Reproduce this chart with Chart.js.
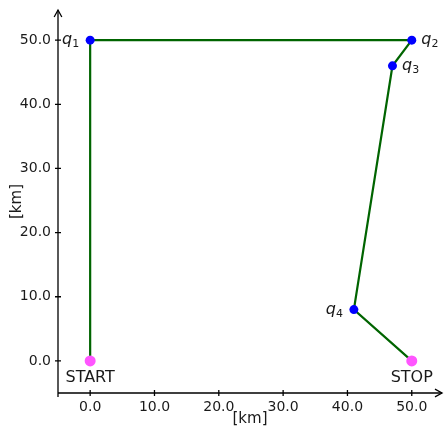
<!DOCTYPE html>
<html>
<head>
<meta charset="utf-8">
<script src="https://cdn.jsdelivr.net/npm/chart.js@4/dist/chart.umd.min.js"></script>
<style>
  html, body { margin: 0; padding: 0; background: #fff; }
  #wrap { width: 444px; height: 427px; }
</style>
</head>
<body>
<div id="wrap"><canvas id="pathChart"></canvas></div>
<script>
// route points, in km
let pathX = [0, 0, 50, 47, 41, 50];
let pathY = [0, 50, 50, 46, 8, 0];
let pointNames = ['START', 'q1', 'q2', 'q3', 'q4', 'STOP'];
let tickValues = [0, 10, 20, 30, 40, 50];

const FONT = "'DejaVu Sans', sans-serif";
const TEXT = '#1a1a1a';
const START_COLOR = '#ff55ff';
const Q_COLOR = '#0000ff';

let pointColors = pointNames.map(n => (n == 'START' || n == 'STOP') ? START_COLOR : Q_COLOR);
let pointSizes = pointNames.map(n => (n == 'START' || n == 'STOP') ? 5.5 : 4.5);

function arrow(ctx, x, y, dx, dy) {
    // open arrow head like matplotlib "->"
    let len = 8, spread = 0.5;
    let ang = Math.atan2(dy, dx);
    ctx.beginPath();
    ctx.moveTo(x - len * Math.cos(ang - spread), y - len * Math.sin(ang - spread));
    ctx.lineTo(x, y);
    ctx.lineTo(x - len * Math.cos(ang + spread), y - len * Math.sin(ang + spread));
    ctx.stroke();
}

const axesPlugin = {
    id: 'axesPlugin',
    beforeDatasetsDraw(chart) {
        const ctx = chart.ctx;
        const xs = chart.scales.x, ys = chart.scales.y;
        const x0 = xs.left, y0 = ys.bottom;
        ctx.save();
        ctx.strokeStyle = '#000';
        ctx.lineWidth = 1.3;
        ctx.beginPath();
        ctx.moveTo(x0, y0 + 4);
        ctx.lineTo(x0, ys.top);
        ctx.moveTo(x0, y0);
        ctx.lineTo(xs.right, y0);
        ctx.stroke();
        arrow(ctx, x0, ys.top, 0, -1);
        arrow(ctx, xs.right, y0, 1, 0);

        // tick marks crossing the axes
        tickValues.forEach(v => {
            let px = xs.getPixelForValue(v);
            let py = ys.getPixelForValue(v);
            ctx.beginPath();
            ctx.moveTo(px, y0 - 3);
            ctx.lineTo(px, y0 + 3);
            ctx.moveTo(x0 - 3, py);
            ctx.lineTo(x0 + 3, py);
            ctx.stroke();
        });
        ctx.restore();
    },
    afterDatasetsDraw(chart) {
        const ctx = chart.ctx;
        const xs = chart.scales.x, ys = chart.scales.y;
        ctx.save();
        ctx.fillStyle = TEXT;
        pointNames.forEach((name, i) => {
            let px = xs.getPixelForValue(pathX[i]);
            let py = ys.getPixelForValue(pathY[i]);
            if (name == 'START' || name == 'STOP') {
                ctx.font = '16px ' + FONT;
                ctx.textAlign = 'center';
                ctx.textBaseline = 'alphabetic';
                ctx.fillText(name, px, py + 21);
                return;
            }
            let sub = name.substring(1);
            ctx.font = 'italic 16px ' + FONT;
            let qw = ctx.measureText('q').width;
            ctx.font = '11px ' + FONT;
            let sw = ctx.measureText(sub).width;
            let left;
            if (name == 'q1' || name == 'q4') {
                left = px - 11 - qw - sw;
            } else {
                left = px + 9.5;
            }
            ctx.textAlign = 'left';
            ctx.textBaseline = 'alphabetic';
            ctx.font = 'italic 16px ' + FONT;
            ctx.fillText('q', left, py + 4);
            ctx.font = '11px ' + FONT;
            ctx.fillText(sub, left + qw, py + 7);
        });
        ctx.restore();
    }
};

function tickOpts(pad) {
    return {
        color: TEXT,
        padding: pad,
        font: { family: FONT, size: 14 },
        callback: v => Number(v).toFixed(1)
    };
}

new Chart(document.getElementById('pathChart'), {
    type: 'line',
    data: {
        datasets: [{
            data: pathX.map((x, i) => ({ x: x, y: pathY[i] })),
            borderColor: '#006400',
            borderWidth: 2.2,
            pointBackgroundColor: pointColors,
            pointBorderColor: pointColors,
            pointRadius: pointSizes,
            pointBorderWidth: 0,
            fill: false,
            tension: 0
        }]
    },
    options: {
        responsive: true,
        maintainAspectRatio: false,
        animation: false,
        layout: { autoPadding: false, padding: { top: 10, right: 2, left: 0, bottom: 0 } },
        plugins: {
            legend: { display: false },
            tooltip: { enabled: false }
        },
        scales: {
            x: {
                type: 'linear',
                min: -5,
                max: 54.7,
                afterBuildTicks: s => { s.ticks = tickValues.map(v => ({ value: v })); },
                afterFit: s => { s.height = 34; s.paddingLeft = 0; s.paddingRight = 0; },
                grid: { display: false, tickLength: 0 },
                border: { display: false },
                ticks: tickOpts(6),
                title: {
                    display: true,
                    text: '[km]',
                    color: TEXT,
                    font: { family: FONT, size: 15 },
                    padding: { top: 0, bottom: -1 }
                }
            },
            y: {
                type: 'linear',
                min: -5,
                max: 54.7,
                afterBuildTicks: s => { s.ticks = tickValues.map(v => ({ value: v })); },
                afterFit: s => { s.width = 58; s.paddingTop = 0; s.paddingBottom = 0; },
                grid: { display: false, tickLength: 0 },
                border: { display: false },
                ticks: tickOpts(7),
                title: {
                    display: true,
                    text: '[km]',
                    color: TEXT,
                    font: { family: FONT, size: 15 },
                    padding: { top: 8, bottom: 0 }
                }
            }
        }
    },
    plugins: [axesPlugin]
});
</script>
</body>
</html>
